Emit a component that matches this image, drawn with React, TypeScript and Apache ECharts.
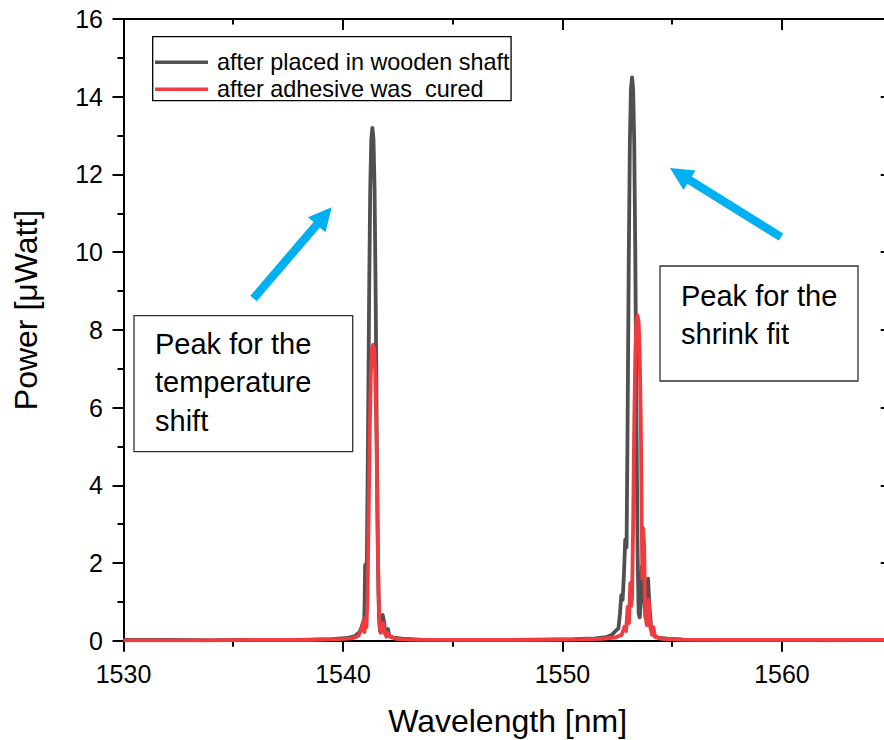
import React, { useEffect, useRef } from "react";
import * as echarts from "echarts";

// ---------- data ----------
const seriesNames = ["after placed in wooden shaft", "after adhesive was  cured"];

const blackWavelength = [
  1530, 1532, 1534, 1536, 1538, 1539.5, 1540.2, 1540.55, 1540.75, 1540.85, 1540.9, 1540.95,
  1540.98, 1541.01, 1541.04, 1541.09, 1541.14, 1541.19, 1541.24, 1541.29, 1541.34, 1541.39,
  1541.44, 1541.49, 1541.54, 1541.59, 1541.64, 1541.69, 1541.75, 1541.81, 1541.87, 1541.93,
  1541.99, 1542.05, 1542.12, 1542.3, 1542.7, 1543.5, 1545, 1547, 1549, 1550.5, 1551.5, 1552.0,
  1552.25, 1552.42, 1552.55, 1552.62, 1552.68, 1552.74, 1552.8, 1552.86, 1552.92, 1552.97,
  1553.02, 1553.07, 1553.12, 1553.17, 1553.22, 1553.27, 1553.32, 1553.37, 1553.42, 1553.47,
  1553.52, 1553.57, 1553.62, 1553.67, 1553.72, 1553.78, 1553.84, 1553.9, 1553.96, 1554.04,
  1554.12, 1554.2, 1554.4, 1554.8, 1555.5, 1557, 1560, 1562, 1565,
];
const blackPower = [
  0.02, 0.02, 0.01, 0.02, 0.02, 0.04, 0.07, 0.12, 0.22, 0.35, 0.45, 0.3,
  0.8, 1.95, 1.2, 2.2, 5.2, 8.8, 11.6, 12.9, 13.2, 12.9,
  11.6, 8.8, 5.2, 2.2, 0.6, 0.25, 0.55, 0.66, 0.5, 0.18,
  0.25, 0.3, 0.12, 0.08, 0.05, 0.03, 0.02, 0.02, 0.03, 0.04, 0.06, 0.09,
  0.15, 0.25, 0.32, 0.7, 1.17, 1.05, 1.7, 2.6, 2.4, 5.8,
  9.8, 12.8, 14.2, 14.5, 14.2, 12.8, 9.8, 5.8, 2.4, 0.7,
  0.6, 1.0, 1.9, 2.0, 1.2, 0.6, 1.0, 1.6, 0.9, 0.35,
  0.27, 0.12, 0.07, 0.05, 0.03, 0.02, 0.02, 0.01, 0.02,
];

const redWavelength = [
  1530, 1533, 1536, 1538.5, 1539.8, 1540.4, 1540.7, 1540.85, 1540.92, 1540.98, 1541.03, 1541.07,
  1541.12, 1541.17, 1541.22, 1541.27, 1541.32, 1541.37, 1541.42, 1541.47, 1541.52, 1541.57,
  1541.62, 1541.67, 1541.72, 1541.78, 1541.84, 1541.9, 1541.98, 1542.06, 1542.14, 1542.4,
  1543, 1545, 1548, 1550.5, 1551.8, 1552.4, 1552.7, 1552.82, 1552.9, 1552.97, 1553.03,
  1553.09, 1553.13, 1553.17, 1553.22, 1553.27, 1553.32, 1553.37, 1553.42, 1553.47, 1553.52,
  1553.57, 1553.61, 1553.64, 1553.67, 1553.72, 1553.77, 1553.84, 1553.93, 1554.0, 1554.08,
  1554.14, 1554.22, 1554.5, 1555.5, 1558, 1562, 1565,
];
const redPower = [
  0.01, 0.01, 0.02, 0.02, 0.04, 0.06, 0.12, 0.3, 0.5, 0.22, 0.6, 0.35,
  1.2, 3.2, 5.4, 6.9, 7.5, 7.62, 7.5, 6.9, 5.4, 3.2,
  1.2, 0.35, 0.2, 0.4, 0.45, 0.2, 0.1, 0.2, 0.1, 0.05,
  0.03, 0.02, 0.02, 0.03, 0.05, 0.08, 0.15, 0.36, 0.25, 0.87, 0.45,
  1.48, 0.9, 1.1, 3.0, 5.6, 7.4, 8.2, 8.37, 8.2, 7.4,
  5.6, 3.0, 1.6, 2.9, 2.5, 0.7, 0.4, 1.05, 0.35, 0.15,
  0.35, 0.1, 0.05, 0.03, 0.02, 0.02, 0.02,
];

const xRange = [1530, 1565];
const xMajorStep = 10;
const xMinorStep = 5;
const yRange = [0, 16];
const yMajorStep = 2;

const xTitle = "Wavelength [nm]";
const yTitle = "Power [μWatt]";
const noteLeft = ["Peak for the", "temperature", "shift"];
const noteRight = ["Peak for the", "shrink fit"];

// ---------- styling ----------
const FONT = "'Liberation Sans', Arial, Helvetica, sans-serif";
const BLACK = "#505050";
const RED = "#f03c40";
const CYAN = "#00b0f0";

function arrowPoints(
  tx: number, ty: number, px: number, py: number,
  shaftHalf: number, headHalf: number, headLen: number
): number[][] {
  const dx = px - tx;
  const dy = py - ty;
  const len = Math.sqrt(dx * dx + dy * dy);
  const ux = dx / len;
  const uy = dy / len;
  const nx = -uy;
  const ny = ux;
  const bx = px - headLen * ux;
  const by = py - headLen * uy;
  return [
    [tx + shaftHalf * nx, ty + shaftHalf * ny],
    [bx + shaftHalf * nx, by + shaftHalf * ny],
    [bx + headHalf * nx, by + headHalf * ny],
    [px, py],
    [bx - headHalf * nx, by - headHalf * ny],
    [bx - shaftHalf * nx, by - shaftHalf * ny],
    [tx - shaftHalf * nx, ty - shaftHalf * ny],
  ];
}

export default function App() {
  const ref = useRef<HTMLDivElement>(null);

  useEffect(() => {
    if (!ref.current) return;
    const chart = echarts.init(ref.current, undefined, { renderer: "svg" });

    const blackData = blackWavelength.map((w, i) => [w, blackPower[i]]);
    const redData = redWavelength.map((w, i) => [w, redPower[i]]);

    const tickLine = { color: "#000", width: 2 };
    const axisLine = { show: true, onZero: false, lineStyle: { color: "#000", width: 2 } };
    const plain = (v: number) => String(v);

    const option: any = {
      animation: false,
      backgroundColor: "#fff",
      grid: {
        left: 123.5, top: 19, right: -7.7, bottom: 99.3,
        containLabel: false, outerBoundsMode: "none",
      },
      xAxis: [
        {
          type: "value", position: "bottom", min: xRange[0], max: xRange[1], interval: xMajorStep,
          axisLine, axisTick: { show: true, length: 11, lineStyle: tickLine },
          axisLabel: { margin: 21, fontSize: 25, color: "#000", fontFamily: FONT, showMaxLabel: false, formatter: plain },
          splitLine: { show: false },
          name: xTitle, nameLocation: "middle", nameGap: 64,
          nameTextStyle: { fontSize: 32, color: "#000", fontFamily: FONT },
        },
        {
          type: "value", position: "bottom", min: xRange[0], max: xRange[1], interval: xMinorStep,
          axisLine: { show: false, onZero: false }, axisTick: { show: true, length: 6, lineStyle: tickLine },
          axisLabel: { show: false }, splitLine: { show: false },
        },
        {
          type: "value", position: "top", min: xRange[0], max: xRange[1], interval: xMajorStep,
          axisLine, axisTick: { show: true, inside: true, length: 11, lineStyle: tickLine },
          axisLabel: { show: false }, splitLine: { show: false },
        },
        {
          type: "value", position: "top", min: xRange[0], max: xRange[1], interval: xMinorStep,
          axisLine: { show: false, onZero: false }, axisTick: { show: true, inside: true, length: 5.5, lineStyle: tickLine },
          axisLabel: { show: false }, splitLine: { show: false },
        },
      ],
      yAxis: [
        {
          type: "value", position: "left", min: yRange[0], max: yRange[1], interval: yMajorStep,
          axisLine, axisTick: { show: true, length: 11, lineStyle: tickLine },
          minorTick: { show: true, splitNumber: 2, length: 6, lineStyle: tickLine },
          axisLabel: { margin: 20.5, fontSize: 25, color: "#000", fontFamily: FONT, formatter: plain },
          splitLine: { show: false }, minorSplitLine: { show: false },
        },
        {
          type: "value", position: "right", min: yRange[0], max: yRange[1], interval: yMajorStep,
          axisLine, axisTick: { show: true, inside: true, length: 11, lineStyle: tickLine },
          minorTick: { show: true, splitNumber: 2, length: 5.5, lineStyle: tickLine },
          axisLabel: { show: false }, splitLine: { show: false }, minorSplitLine: { show: false },
        },
      ],
      legend: {
        data: seriesNames.map((n) => ({ name: n, icon: "rect" })),
        orient: "vertical",
        left: 152.7,
        top: 36.7,
        padding: [14, 1.5, 0, 2.3],
        itemWidth: 53,
        itemHeight: 3.5,
        itemGap: 4,
        borderColor: "#000",
        borderWidth: 1.3,
        borderRadius: 0,
        backgroundColor: "#fff",
        textStyle: { fontSize: 23.4, color: "#000", fontFamily: FONT, padding: [0, 0, 0, 4] },
      },
      series: [
        {
          type: "line", name: seriesNames[0], xAxisIndex: 0, yAxisIndex: 0, data: blackData,
          showSymbol: false, symbol: "none", z: 2,
          lineStyle: { color: BLACK, width: 3.8, join: "round" }, itemStyle: { color: BLACK },
        },
        {
          type: "line", name: seriesNames[1], xAxisIndex: 0, yAxisIndex: 0, data: redData,
          showSymbol: false, symbol: "none", z: 3,
          lineStyle: { color: RED, width: 3.8, join: "round" }, itemStyle: { color: RED },
        },
      ],
      graphic: [
        {
          type: "text", x: 26.3, y: 310, rotation: Math.PI / 2,
          style: { text: yTitle, fontSize: 32, fontFamily: FONT, fill: "#000", align: "center", verticalAlign: "middle" },
        },
        {
          type: "rect", shape: { x: 134, y: 315.7, width: 218.7, height: 136 },
          style: { fill: "#fff", stroke: "#333", lineWidth: 1.3 },
        },
        {
          type: "text", x: 155, y: 324.2,
          style: { text: noteLeft.join("\n"), fontSize: 29, lineHeight: 38.7, fontFamily: FONT, fill: "#000", align: "left", verticalAlign: "top" },
        },
        {
          type: "rect", shape: { x: 660, y: 266, width: 198, height: 115 },
          style: { fill: "#fff", stroke: "#333", lineWidth: 1.3 },
        },
        {
          type: "text", x: 681, y: 277,
          style: { text: noteRight.join("\n"), fontSize: 29, lineHeight: 38, fontFamily: FONT, fill: "#000", align: "left", verticalAlign: "top" },
        },
        {
          type: "polygon", shape: { points: arrowPoints(253.5, 298.5, 331.7, 207.3, 4.2, 11.5, 23) },
          style: { fill: CYAN },
        },
        {
          type: "polygon", shape: { points: arrowPoints(781, 237, 670, 168, 4.2, 11.5, 23) },
          style: { fill: CYAN },
        },
      ],
    };

    chart.setOption(option);
    return () => chart.dispose();
  }, []);

  return (
    <div style={{ position: "fixed", left: 0, top: 0, width: 884, height: 740, overflow: "hidden", background: "#fff" }}>
      <div ref={ref} style={{ width: 884, height: 740 }} />
    </div>
  );
}
